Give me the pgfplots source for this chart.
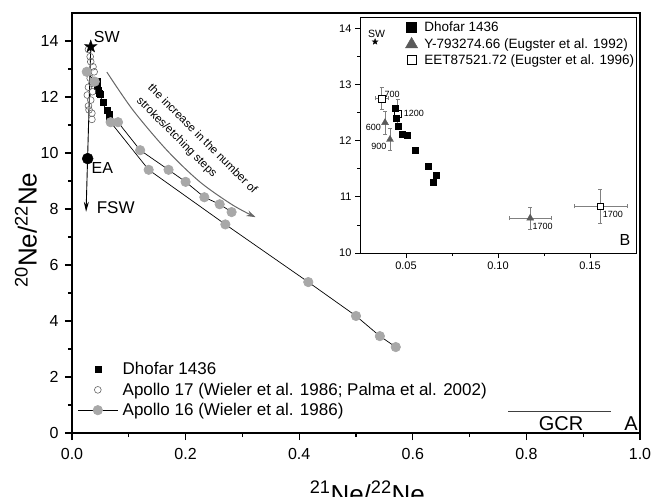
\documentclass[border=0pt]{standalone}
\usepackage{fontspec}
\setmainfont{Liberation Sans}
\usepackage{pgfplots}
\usepackage{pgfplotstable}
\pgfplotsset{compat=1.18}
\usetikzlibrary{arrows.meta}
\definecolor{apgray}{HTML}{A8A8A8}
\definecolor{trigray}{HTML}{5A5A5A}
\newcommand{\fs}[1]{\fontsize{#1}{#1}\selectfont}

% legend images: line with a middle mark, or the mark alone
\pgfplotsset{
  lineleg/.style={legend image code/.code={\draw[mark repeat=2,mark phase=2,##1] plot coordinates {(0pt,0pt)(20pt,0pt)(40pt,0pt)};
    \path (0pt,0pt) (44pt,0pt);}},
  markleg/.style={legend image code/.code={\path (0pt,0pt) (44pt,0pt);
    \draw[##1] plot[only marks] coordinates {(20pt,0pt)};}},
  insetleg/.style={legend image code/.code={\path (0pt,0pt) (22pt,0pt);
    \draw[##1] plot[only marks] coordinates {(10pt,0pt)};}},
}

% filled five-pointed star
\pgfdeclareplotmark{fstar}{%
  \pgfpathmoveto{\pgfpointpolar{90}{\pgfplotmarksize}}%
  \pgfpathlineto{\pgfpointpolar{126}{0.4\pgfplotmarksize}}%
  \pgfpathlineto{\pgfpointpolar{162}{\pgfplotmarksize}}%
  \pgfpathlineto{\pgfpointpolar{198}{0.4\pgfplotmarksize}}%
  \pgfpathlineto{\pgfpointpolar{234}{\pgfplotmarksize}}%
  \pgfpathlineto{\pgfpointpolar{270}{0.4\pgfplotmarksize}}%
  \pgfpathlineto{\pgfpointpolar{306}{\pgfplotmarksize}}%
  \pgfpathlineto{\pgfpointpolar{342}{0.4\pgfplotmarksize}}%
  \pgfpathlineto{\pgfpointpolar{18}{\pgfplotmarksize}}%
  \pgfpathlineto{\pgfpointpolar{54}{0.4\pgfplotmarksize}}%
  \pgfpathclose
  \pgfusepathqfillstroke
}

\pgfplotstableread{
x y
0.0440 12.57
0.0446 12.40
0.0455 12.25
0.0477 12.12
0.0504 12.09
0.0549 11.83
0.0620 11.54
0.0648 11.26
0.0663 11.38
}\dhofar

\pgfplotstableread{
x y
0.029 13.70
0.032 13.44
0.033 13.26
0.037 13.08
0.029 12.90
0.039 12.90
0.032 12.67
0.035 12.49
0.029 12.35
0.036 12.19
0.027 12.07
0.033 11.89
0.029 11.68
0.030 11.54
0.035 11.42
0.035 11.20
}\apolloA

\pgfplotstableread{
x y
0.026 12.90
0.040 12.55
0.068 11.10
0.135 9.40
0.270 7.45
0.416 5.39
0.500 4.18
0.542 3.46
0.570 3.07
}\apollobA

\pgfplotstableread{
x y
0.081 11.10
0.120 10.10
0.170 9.40
0.200 8.97
0.233 8.42
0.260 8.17
0.281 7.89
}\apollobB

\pgfplotstableread{
x y ex ey
0.0386 12.32 0 0.2
0.0413 12.02 0 0.2
0.1175 10.62 0.0112 0.2
}\yamato

\pgfplotstableread{
x y ex ey
0.0368 12.75 0.0036 0.2
0.0455 12.48 0.0020 0.25
0.1556 10.83 0.0144 0.3
}\eet

\begin{document}
\begin{tikzpicture}
\begin{axis}[
  name=main, at={(0pt,0pt)}, anchor=south west,
  scale only axis, width=568pt, height=420pt,
  xmin=0, xmax=1.0, ymin=0, ymax=15,
  xtick={0,0.2,...,1.0}, ytick={0,2,...,14},
  minor x tick num=1, minor y tick num=1,
  tick align=outside, tick pos=left,
  major tick length=7pt, minor tick length=4pt,
  axis line style={line width=1.6pt},
  tick style={black, line width=1.2pt},
  /pgf/number format/assume math mode=true,
  ticklabel style={font=\fs{16}},
  xticklabel style={yshift=-5pt, /pgf/number format/.cd, fixed, fixed zerofill, precision=1},
  yticklabel style={xshift=-3pt, /pgf/number format/.cd, fixed, precision=0},
  xlabel={\textsuperscript{21}Ne/\textsuperscript{22}Ne},
  xlabel style={at={(axis description cs:0.52,-0.1667)}, anchor=base, font=\fs{26}},
  ylabel={\textsuperscript{20}Ne/\textsuperscript{22}Ne},
  ylabel style={at={(axis description cs:-0.081,0.483)}, anchor=center, font=\fs{26}},
  legend style={at={(axis description cs:0.004,0.174)}, anchor=north west,
    draw=none, fill=none, font=\fs{17}, nodes={inner sep=0.5pt}, cells={anchor=west}, row sep=5.5pt},
  lineleg,
]
\addplot[only marks, mark=square*, mark size=3pt, black, markleg] table {\dhofar};
\addlegendentry{Dhofar 1436}
\addplot[only marks, mark=o, mark size=3.4pt, black!60, line width=0.6pt, markleg] table {\apolloA};
\addlegendentry{Apollo 17 (Wieler et al. 1986; Palma et al. 2002)}
\addplot[black, line width=0.7pt, mark=*, mark size=4.7pt, mark options={draw=apgray, fill=apgray}] table {\apollobA};
\addlegendentry{Apollo 16 (Wieler et al. 1986)}
\addplot[black, line width=0.7pt, mark=*, mark size=4.7pt, mark options={draw=apgray, fill=apgray}, forget plot] table {\apollobB};
% SW -> FSW arrow
\addplot[black, line width=0.9pt, -{Stealth[length=10pt,width=5pt]}, forget plot] coordinates {(0.033,13.8)(0.0248,7.9)};
\addplot[only marks, mark=*, mark size=5.5pt, black, forget plot] coordinates {(0.0276,9.8)};
\addplot[only marks, mark=fstar, mark size=6.5pt, black, forget plot] coordinates {(0.033,13.8)};
% etching arrow
\addplot[black!60, line width=1pt, smooth, -{Stealth[length=9pt,width=6pt]}, forget plot]
  coordinates {(0.0614,12.89)(0.107,11.54)(0.167,10.1)(0.225,8.97)(0.283,8.14)(0.323,7.71)};
% GCR
\addplot[black!75, line width=1pt, forget plot] coordinates {(0.768,0.78)(0.949,0.78)};
\node[font=\fs{16}] at (axis cs:0.0614,14.14) {SW};
\node[font=\fs{16}] at (axis cs:0.0535,9.45) {EA};
\node[font=\fs{17}] at (axis cs:0.077,8.05) {FSW};
\node[font=\fs{11.5}, rotate=-45] at (axis cs:0.2307,10.52) {the increase in the number of};
\node[font=\fs{11.5}, rotate=-45] at (axis cs:0.184,10.55) {strokes/etching steps};
\node[font=\fs{20}] at (axis cs:0.861,0.32) {GCR};
\node[font=\fs{20}] at (axis cs:0.984,0.32) {A};
\end{axis}

\begin{axis}[
  name=inset, at={(288pt,180pt)}, anchor=south west,
  scale only axis, width=276pt, height=236pt,
  xmin=0.025, xmax=0.175, ymin=10, ymax=14.2,
  xtick={0.05,0.10,0.15}, ytick={10,...,14},
  minor x tick num=1, minor y tick num=1,
  tick align=outside, tick pos=left,
  major tick length=5pt, minor tick length=3pt,
  axis line style={line width=0.9pt},
  tick style={black, line width=0.8pt},
  axis background/.style={fill=white},
  /pgf/number format/assume math mode=true,
  ticklabel style={font=\fs{11}},
  xticklabel style={/pgf/number format/.cd, fixed, fixed zerofill, precision=2},
  yticklabel style={/pgf/number format/.cd, fixed, precision=0},
  legend style={at={(axis description cs:0.138,0.99)}, anchor=north west,
    draw=none, fill=none, font=\fs{13.5}, nodes={inner sep=0.5pt}, cells={anchor=west}, row sep=3.5pt},
  insetleg,
]
\addlegendimage{mark=square*, mark size=5pt, black}
\addlegendentry{Dhofar 1436}
\addlegendimage{mark=triangle*, mark size=7pt, trigray}
\addlegendentry{Y-793274.66 (Eugster et al. 1992)}
\addlegendimage{mark=square, mark size=4.5pt, black, line width=0.6pt}
\addlegendentry{EET87521.72 (Eugster et al. 1996)}
\addplot[only marks, mark=triangle*, mark size=4pt, trigray, forget plot,
  error bars/.cd, x dir=both, y dir=both, x explicit, y explicit,
  error bar style={gray, line width=0.6pt},
  error mark options={rotate=90, gray, mark size=2pt, line width=0.6pt}]
  table[x=x, y=y, x error=ex, y error=ey] {\yamato};
\addplot[only marks, mark=square*, mark size=3.3pt, mark options={fill=white, draw=black, line width=0.5pt}, forget plot,
  error bars/.cd, x dir=both, y dir=both, x explicit, y explicit,
  error bar style={gray, line width=0.6pt},
  error mark options={rotate=90, gray, mark size=2pt, line width=0.6pt}]
  table[x=x, y=y, x error=ex, y error=ey] {\eet};
\addplot[only marks, mark=square*, mark size=3pt, black, forget plot] table {\dhofar};
\addplot[only marks, mark=fstar, mark size=3pt, black, forget plot] coordinates {(0.0332,13.76)};
\node[font=\fs{10.5}] at (axis cs:0.034,13.90) {SW};
\node[font=\fs{9}] at (axis cs:0.0424,12.82) {700};
\node[font=\fs{9}] at (axis cs:0.0543,12.48) {1200};
\node[font=\fs{9}] at (axis cs:0.0323,12.24) {600};
\node[font=\fs{9}] at (axis cs:0.0352,11.89) {900};
\node[font=\fs{9}] at (axis cs:0.1242,10.47) {1700};
\node[font=\fs{9}] at (axis cs:0.1624,10.68) {1700};
\node[font=\fs{16}] at (axis cs:0.169,10.23) {B};
\end{axis}
\pgfresetboundingbox
\path[use as bounding box] (-72pt,-63pt) rectangle (580pt,433pt);
\end{tikzpicture}
\end{document}
